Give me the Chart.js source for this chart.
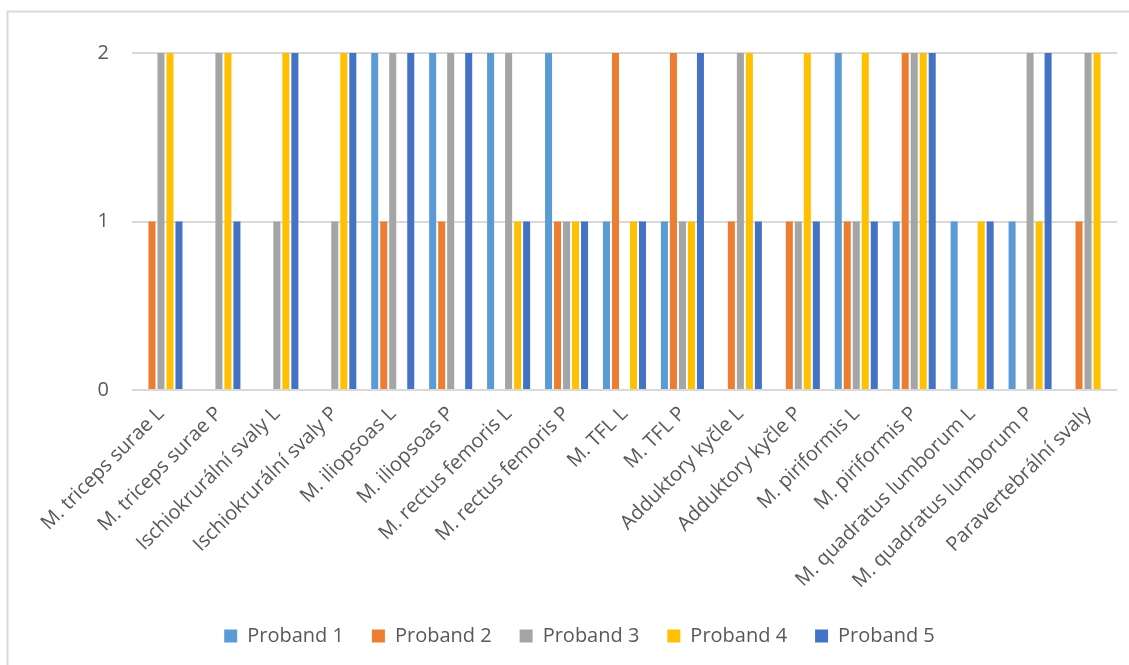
<!DOCTYPE html>
<html>
<head>
<meta charset="utf-8">
<title>Proband</title>
<script src="https://cdn.jsdelivr.net/npm/chart.js@4/dist/chart.umd.min.js"></script>
<style>
  html, body { margin: 0; padding: 0; background: #ffffff; }
  #wrap { width: 1129px; height: 665px; position: relative; }
</style>
</head>
<body>
<div id="wrap"><canvas id="chart" width="1129" height="665"></canvas></div>
<script>
// Muscle groups (L = left, P = right)
const categories = [
  'M. triceps surae L', 'M. triceps surae P',
  'Ischiokrurální svaly L', 'Ischiokrurální svaly P',
  'M. iliopsoas L', 'M. iliopsoas P',
  'M. rectus femoris L', 'M. rectus femoris P',
  'M. TFL L', 'M. TFL P',
  'Adduktory kyčle L', 'Adduktory kyčle P',
  'M. piriformis L', 'M. piriformis P',
  'M. quadratus lumborum L', 'M. quadratus lumborum P',
  'Paravertebrální svaly'
];

const proband1 = [0, 0, 0, 0, 2, 2, 2, 2, 1, 1, 0, 0, 2, 1, 1, 1, 0];
const proband2 = [1, 0, 0, 0, 1, 1, 0, 1, 2, 2, 1, 1, 1, 2, 0, 0, 1];
const proband3 = [2, 2, 1, 1, 2, 2, 2, 1, 0, 1, 2, 1, 1, 2, 0, 2, 2];
const proband4 = [2, 2, 2, 2, 0, 0, 1, 1, 1, 1, 2, 2, 2, 2, 1, 1, 2];
const proband5 = [1, 1, 2, 2, 2, 2, 1, 1, 1, 2, 1, 1, 1, 2, 1, 2, 0];

const seriesNames = ['Proband 1', 'Proband 2', 'Proband 3', 'Proband 4', 'Proband 5'];
const seriesColors = ['#5B9BD5', '#ED7D31', '#A5A5A5', '#FFC000', '#4472C4'];
const yTicks = [0, 1, 2];

const FONT = "'Open Sans', 'DejaVu Sans', sans-serif";
const TEXT = '#595959';

// Light frame round the chart area
const framePlugin = {
  id: 'frame',
  afterDraw(chart) {
    const ctx = chart.ctx;
    ctx.save();
    ctx.strokeStyle = '#d9d9d9';
    ctx.lineWidth = 2;
    ctx.beginPath();
    ctx.moveTo(7.5, 665);
    ctx.lineTo(7.5, 11.5);
    ctx.lineTo(1129, 11.5);
    ctx.stroke();
    ctx.restore();
  }
};

const allSeries = [proband1, proband2, proband3, proband4, proband5];

new Chart(document.getElementById('chart'), {
  type: 'bar',
  data: {
    labels: categories,
    datasets: allSeries.map((vals, i) => ({
      label: seriesNames[i],
      data: vals,
      backgroundColor: seriesColors[i],
      borderWidth: 0,
      categoryPercentage: 0.777,
      barPercentage: 0.78
    }))
  },
  options: {
    responsive: false,
    animation: false,
    devicePixelRatio: 1,
    layout: { padding: { top: 53, right: 12, left: 42, bottom: 9 } },
    plugins: {
      legend: {
        position: 'bottom',
        labels: {
          font: { family: FONT, size: 20 },
          color: TEXT,
          boxWidth: 13,
          boxHeight: 13,
          padding: 28
        }
      },
      tooltip: { enabled: false }
    },
    scales: {
      x: {
        grid: { display: false },
        border: { display: false },
        ticks: {
          font: { family: FONT, size: 20 },
          color: TEXT,
          minRotation: 45,
          maxRotation: 45,
          autoSkip: false,
          padding: 4
        },
        afterFit(scale) { scale.height = 208; }
      },
      y: {
        min: 0,
        max: 2,
        afterBuildTicks(scale) { scale.ticks = yTicks.map(v => ({ value: v })); },
        grid: { color: '#d9d9d9', lineWidth: 2, drawTicks: false },
        border: { display: false },
        ticks: {
          font: { family: FONT, size: 20 },
          color: TEXT,
          padding: 23
        },
        afterFit(scale) { scale.width = 90; }
      }
    }
  },
  plugins: [framePlugin]
});
</script>
</body>
</html>
